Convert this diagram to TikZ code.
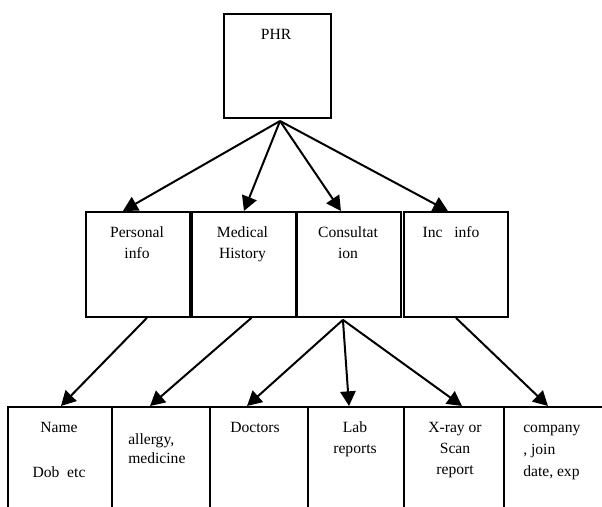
\documentclass[tikz,border=0pt]{standalone}
\usepackage{fontspec}
\setmainfont{Liberation Serif}
\usetikzlibrary{arrows.meta,calc}
\begin{document}
\begin{tikzpicture}[x=0.75pt,y=-0.75pt,
  box/.style={draw,line width=1.4pt,inner sep=0,anchor=north west},
  midbox/.style={box,minimum width=78pt,minimum height=78.75pt},
  txt/.style={align=center,inner sep=0,anchor=north,font=\fontsize{11.7}{15.75}\selectfont},
  ltxt/.style={txt,align=left,anchor=north west},
  arr/.style={line width=1.5pt,-{Triangle[length=11pt,width=11.5pt]}}]
\useasboundingbox (0,0) rectangle (602,506);
\clip (0,0) rectangle (602,506);
\fill[white] (0,0) rectangle (602,506);
% top box
\node[box,minimum width=80.25pt,minimum height=78pt] (phr) at (223,13) {};
\node[txt] (tphr) at (276,24.3) {\strut PHR};
\coordinate (phrb) at (280,121);
% middle row
\node[midbox] (per) at (85,211) {};
\node[midbox] (med) at (191,211) {};
\node[midbox] (con) at (296,211) {};
\node[midbox] (inc) at (403,211) {};
\node[txt] (tper) at (137,222.3) {\strut Personal\\info};
\node[txt] (tmed) at (242.5,222.3) {\strut Medical\\History};
\node[txt] (tcon) at (348,222.3) {\strut Consultat\\ion};
\node[txt] (tinc) at (451,222.3) {\strut Inc\ \ \ info};
% bottom row
\node[box,minimum width=78pt,minimum height=100pt] (nam) at (7,406) {};
\node[box,minimum width=73.5pt,minimum height=100pt] (all) at (111,406) {};
\node[box,minimum width=73.5pt,minimum height=100pt] (doc) at (209,406) {};
\node[box,minimum width=72pt,minimum height=100pt] (lab) at (307,406) {};
\node[box,minimum width=75pt,minimum height=100pt] (xr) at (403,406) {};
\node[box,minimum width=90pt,minimum height=100pt] (com) at (503,406) {};
\node[txt] (tnam) at (59,417.3) {\strut Name\\[18pt]Dob\ \ etc};
\node[ltxt] (tall) at (128,429.3) {\strut allergy,\\[-1.5pt]medicine};
\node[txt] (tdoc) at (255,417.3) {\strut Doctors};
\node[txt] (tlab) at (355,418) {\strut Lab\\reports};
\node[txt] (txr) at (455,417.3) {\strut X-ray or\\Scan\\report};
\node[ltxt] (tcom) at (523,417.3) {\strut company\\[1pt], join\\[1pt]date, exp};
% arrows from PHR
\draw[arr] (phrb) -- ($(per.north)+(-15,0)$);
\draw[arr] (phrb) -- (med.north);
\draw[arr] (phrb) -- ($(con.north)+(-8,0)$);
\draw[arr] (phrb) -- ($(inc.north)+(-8,0)$);
% arrows to bottom
\draw[arr] ($(per.south)+(9,0)$) -- ($(nam.north)+(1,0)$);
\draw[arr] ($(med.south)+(7.5,0)$) -- ($(all.north west)+(39,0)$);
\coordinate (conb) at ($(con.south)+(-6,2)$);
\draw[arr] (conb) -- ($(doc.north west)+(38,0)$);
\draw[arr] (conb) -- ($(lab.north west)+(42,0)$);
\draw[arr] (conb) -- ($(xr.north west)+(59,0)$);
\draw[arr] (inc.south) -- ($(com.north west)+(45,0)$);
\end{tikzpicture}
\end{document}
